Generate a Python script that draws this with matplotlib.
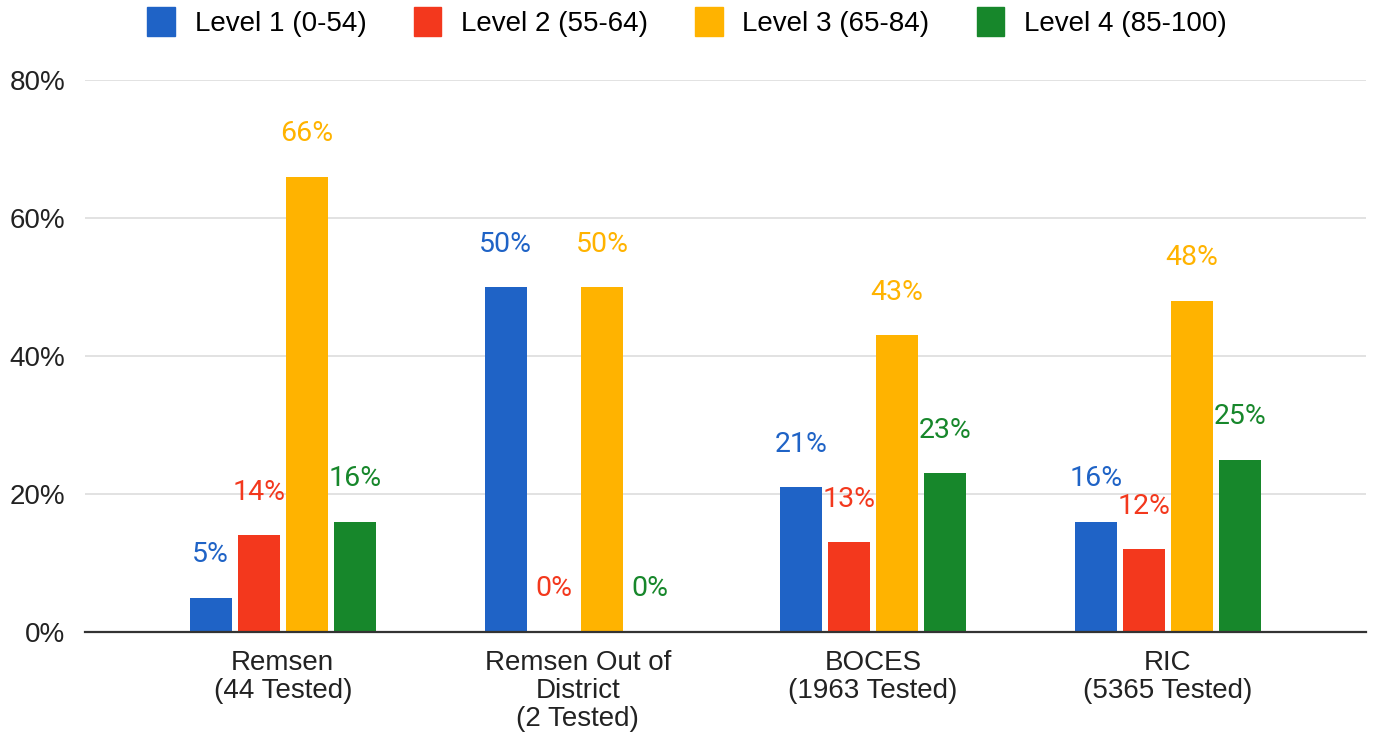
import matplotlib
matplotlib.use("Agg")
import matplotlib.pyplot as plt
import numpy as np
from matplotlib.patches import Patch

categories = ["Remsen\n(44 Tested)", "Remsen Out of\nDistrict\n(2 Tested)",
              "BOCES\n(1963 Tested)", "RIC\n(5365 Tested)"]
series_names = ["Level 1 (0-54)", "Level 2 (55-64)", "Level 3 (65-84)", "Level 4 (85-100)"]
level1 = [5, 50, 21, 16]
level2 = [14, 0, 13, 12]
level3 = [66, 50, 43, 48]
level4 = [16, 0, 23, 25]
yticks = [0, 20, 40, 60, 80]

colors = ["#1f63c6", "#f3381d", "#ffb300", "#17872b"]
series = [level1, level2, level3, level4]

plt.rcParams['font.family'] = ['Liberation Sans', 'DejaVu Sans']

fig = plt.figure(figsize=(13.74, 7.36), dpi=100)
ax = fig.add_axes([0.0619, 0.1413, 0.994 - 0.0619, 0.891 - 0.1413])

x = np.arange(len(categories))
pitch = 0.163
width = 0.142
for i, (vals, col) in enumerate(zip(series, colors)):
    offs = (i - 1.5) * pitch
    ax.bar(x + offs, vals, width=width, color=col, zorder=3, label=series_names[i])
    for xi, v in zip(x, vals):
        ax.annotate(f"{v}%", (xi + offs, v), xytext=(0, 31), textcoords="offset points",
                    ha="center", va="center", color=col, fontsize=20.5,
                    family=['Roboto', 'DejaVu Sans'], zorder=4, annotation_clip=False)

ax.set_xlim(-0.67, 3.67)
ax.set_ylim(0, 80)
ax.set_yticks(yticks)
ax.set_yticklabels([f"{t}%" for t in yticks], fontsize=20, color="#222222")
ax.set_xticks(x)
ax.set_xticklabels(categories, fontsize=20, color="#222222", linespacing=1.1)
ax.tick_params(axis='both', length=0)
ax.tick_params(axis='y', pad=14)
ax.tick_params(axis='x', pad=13)
for s in ["top", "right", "left"]:
    ax.spines[s].set_visible(False)
ax.spines["bottom"].set_color("#333333")
ax.spines["bottom"].set_linewidth(1.6)
ax.spines["bottom"].set_zorder(5)
ax.yaxis.grid(True, color="#dddddd", linewidth=1.2, zorder=0)
ax.set_axisbelow(True)

handles = [Patch(facecolor=c, edgecolor=c) for c in colors]
fig.legend(handles, series_names, loc="center", bbox_to_anchor=(0.5, 0.97), ncol=4,
           frameon=False, fontsize=20, handlelength=1.0, handleheight=1.2,
           handletextpad=0.7, columnspacing=1.7)

fig.savefig("out.png", dpi=100, facecolor="white")
